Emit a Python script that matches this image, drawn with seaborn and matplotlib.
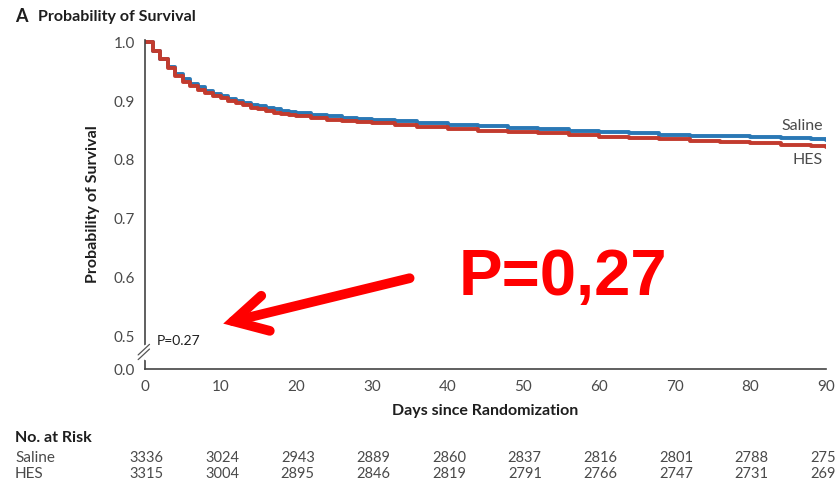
import numpy as np
import pandas as pd
import matplotlib
matplotlib.use('Agg')
import matplotlib.pyplot as plt
import seaborn as sns
from matplotlib.transforms import blended_transform_factory
from matplotlib.patches import FancyArrowPatch

sns.set_style('white')
plt.rcParams['font.family'] = ['Lato', 'DejaVu Sans']

# survival curves (Kaplan-Meier steps)
saline_days = [0, 1, 2, 3, 4, 5, 6, 7, 8, 9, 10, 11, 12, 13, 14, 15, 16, 17, 18, 19, 20,
               22, 24, 26, 28, 30, 33, 36, 40, 44, 48, 52, 56, 60, 64, 68, 72, 76, 80, 84, 88, 90]
saline_surv = [1.0, 0.986, 0.972, 0.958, 0.947, 0.938, 0.930, 0.924, 0.918, 0.913, 0.908,
               0.904, 0.900, 0.897, 0.894, 0.891, 0.889, 0.887, 0.884, 0.882, 0.880,
               0.877, 0.874, 0.872, 0.870, 0.868, 0.866, 0.863, 0.860, 0.857, 0.855, 0.852,
               0.849, 0.847, 0.845, 0.843, 0.841, 0.840, 0.839, 0.837, 0.835, 0.834]
hes_days = saline_days
hes_surv = [1.0, 0.986, 0.971, 0.956, 0.943, 0.933, 0.925, 0.919, 0.914, 0.909, 0.905,
            0.901, 0.897, 0.893, 0.889, 0.886, 0.883, 0.880, 0.878, 0.876, 0.874,
            0.871, 0.868, 0.866, 0.864, 0.862, 0.859, 0.856, 0.853, 0.850, 0.847, 0.845,
            0.842, 0.839, 0.837, 0.835, 0.833, 0.831, 0.829, 0.826, 0.824, 0.822]

risk_days = [0, 10, 20, 30, 40, 50, 60, 70, 80, 90]
risk_saline = [3336, 3024, 2943, 2889, 2860, 2837, 2816, 2801, 2788, 2752]
risk_hes = [3315, 3004, 2895, 2846, 2819, 2791, 2766, 2747, 2731, 2695]

y_ticks = [0.5, 0.6, 0.7, 0.8, 0.9, 1.0]
y_zero = 0.444  # position of the "0.0" tick below the axis break

saline_color = '#2a78b5'
hes_color = '#c23b2e'
text_color = '#1e1e1e'
tick_color = '#4a4a4a'

fig = plt.figure(figsize=(8.36, 4.83), dpi=100)
ax = fig.add_axes([0.1734, 0.236, 0.8146, 0.681])

sns.lineplot(x=saline_days, y=saline_surv, ax=ax, color=saline_color, lw=2.8,
             drawstyle='steps-post', estimator=None)
sns.lineplot(x=hes_days, y=hes_surv, ax=ax, color=hes_color, lw=2.8,
             drawstyle='steps-post', estimator=None)

ax.set_xlim(0, 90)
ax.set_ylim(y_zero, 1.004)
ax.set_xticks(risk_days)
ax.set_yticks([y_zero] + y_ticks)
ax.set_yticklabels(['0.0'] + [f'{v:.1f}' for v in y_ticks])
for s in ['top', 'right']:
    ax.spines[s].set_visible(False)
for s in ['left', 'bottom']:
    ax.spines[s].set_color('#444444')
    ax.spines[s].set_linewidth(1.2)
ax.spines['left'].set_bounds(y_zero, 1.004)
ax.tick_params(axis='both', direction='out', length=6, width=1.1, color='#444444',
               labelsize=11, labelcolor=tick_color, pad=2)
ax.tick_params(axis='y', length=5)

# axis break marks
ax.plot([0, 0], [0.463, 0.483], color='white', lw=2.5, clip_on=False, zorder=3)
ax.plot([-0.9, 0.6], [0.468, 0.486], color='#555555', lw=0.9, clip_on=False, zorder=4)
ax.plot([-0.9, 0.6], [0.460, 0.478], color='#555555', lw=0.9, clip_on=False, zorder=4)

ax.set_xlabel('Days since Randomization', fontsize=11.5, fontweight='bold', color=text_color,
              labelpad=7)
ax.set_ylabel('Probability of Survival', fontsize=11.5, fontweight='bold', color=text_color,
              labelpad=10)

ax.text(89.6, 0.846, 'Saline', ha='right', va='bottom', fontsize=11.5, color=tick_color)
ax.text(89.6, 0.812, 'HES', ha='right', va='top', fontsize=11.5, color=tick_color)
ax.text(1.6, 0.492, 'P=0.27', ha='left', va='center', fontsize=10, color=text_color)

fig.text(0.018, 0.965, 'A', fontsize=13, fontweight='bold', color=text_color, va='center')
fig.text(0.045, 0.965, 'Probability of Survival', fontsize=11.5, fontweight='bold',
         color=text_color, va='center')

# number at risk table
trans = blended_transform_factory(ax.transData, fig.transFigure)
fig.text(0.018, 0.093, 'No. at Risk', fontsize=11.5, fontweight='bold', color=text_color,
         va='center')
fig.text(0.018, 0.052, 'Saline', fontsize=11, color=tick_color, va='center')
fig.text(0.018, 0.019, 'HES', fontsize=11, color=tick_color, va='center')
for d, s, h in zip(risk_days, risk_saline, risk_hes):
    ax.text(d + 0.2, 0.052, str(s), transform=trans, ha='center', va='center', fontsize=10.5,
            color=tick_color, clip_on=False)
    ax.text(d + 0.2, 0.019, str(h), transform=trans, ha='center', va='center', fontsize=10.5,
            color=tick_color, clip_on=False)

# red annotation
fig.text(0.548, 0.424, 'P=0,27', fontsize=47, fontweight='bold', color='#ff0000',
         family=['Liberation Sans', 'DejaVu Sans'], va='center', ha='left')
arrow = FancyArrowPatch((0.49, 0.424), (0.267, 0.330), transform=fig.transFigure,
                        arrowstyle='->,head_length=24,head_width=13', color='#ff0000',
                        lw=7, mutation_scale=1, shrinkA=0, shrinkB=0,
                        capstyle='round', joinstyle='miter')
fig.add_artist(arrow)

plt.savefig('out.png', dpi=100)
